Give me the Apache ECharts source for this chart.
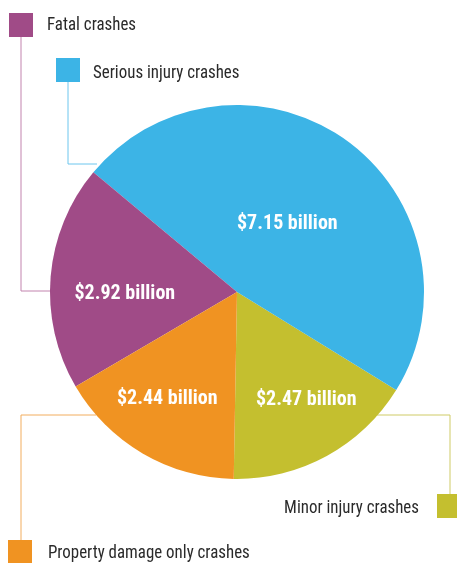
<!DOCTYPE html>
<html>
<head>
<meta charset="utf-8">
<script src="https://cdn.jsdelivr.net/npm/echarts@6/dist/echarts.min.js"></script>
<style>
  html, body { margin: 0; padding: 0; background: #fff; }
  #chart { width: 457px; height: 563px; }
</style>
</head>
<body>
<div id="chart"></div>
<script>
// 数据
const categories = ['Minor injury crashes', 'Serious injury crashes', 'Fatal crashes', 'Property damage only crashes'];
const costs = [2.47, 7.15, 2.92, 2.44]; // billion $
const sliceColors = ['#c4bf2f', '#3cb4e6', '#a04b87', '#f09322'];
const lineColors = ['#cfcb66', '#6cc6ee', '#c283ae', '#f2ad5e'];

// label nudges (dx, dy) per slice
const labelNudge = [[23, 23], [-6, 10], [-16, 10], [-21, 24]];

const font = '"Roboto Condensed", "DejaVu Sans Condensed", sans-serif';

// legend boxes + leader lines
const legendBox = [
  { sq: [437, 494], text: [419, 508, 'right'], line: [[450, 494], [450, 415], [377, 415]] },
  { sq: [56, 58], text: [93, 73, 'left'], line: [[68, 82], [68, 164], [97, 164]] },
  { sq: [9, 13], text: [47, 25, 'left'], line: [[21, 37], [21, 291], [50, 291]] },
  { sq: [8, 540], text: [48, 553, 'left'], line: [[21, 540], [21, 415], [96, 415]] }
];

let graphics = [];
legendBox.forEach((b, i) => {
  graphics.push({
    type: 'polyline', shape: { points: b.line }, z: 1,
    style: { stroke: lineColors[i], lineWidth: 1, fill: null }
  });
  graphics.push({
    type: 'rect', shape: { x: b.sq[0], y: b.sq[1], width: 24, height: 24 },
    style: { fill: sliceColors[i] }
  });
  graphics.push({
    type: 'text', x: b.text[0], y: b.text[1], scaleX: 0.89,
    style: {
      text: categories[i], fill: '#2a2a2a', font: '19px ' + font,
      textAlign: b.text[2], textVerticalAlign: 'middle'
    }
  });
});

let chart = echarts.init(document.getElementById('chart'));
chart.setOption({
  animation: false,
  graphic: graphics,
  series: [
    {
      type: 'pie',
      center: [237, 292],
      radius: 187,
      startAngle: 269,
      clockwise: false,
      z: 3,
      label: {
        show: true,
        position: 'inside',
        color: '#fff',
        fontFamily: font,
        fontWeight: 'bold',
        fontSize: 20,
        formatter: p => '$' + p.value.toFixed(2) + ' billion'
      },
      labelLine: { show: false },
      labelLayout: p => ({ dx: labelNudge[p.dataIndex][0], dy: labelNudge[p.dataIndex][1] }),
      itemStyle: { borderWidth: 0 },
      emphasis: { disabled: true },
      data: categories.map((c, i) => ({ name: c, value: costs[i], itemStyle: { color: sliceColors[i] } }))
    }
  ]
});
</script>
</body>
</html>
